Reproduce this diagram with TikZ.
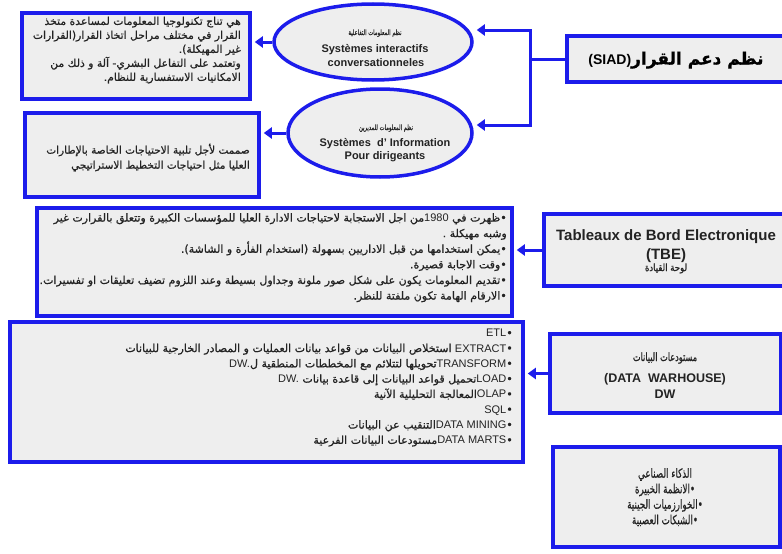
\documentclass[tikz,border=0pt]{standalone}
\usepackage{graphicx}
\usepackage{fontspec}
\setmainfont{Liberation Sans}
\newfontfamily\arfont[Script=Arabic,FakeBold=0.8]{DejaVu Sans}
\TeXXeTstate=1
\usetikzlibrary{arrows.meta,shapes.geometric}

\definecolor{bblue}{RGB}{28,28,235}
\definecolor{bfill}{RGB}{238,238,238}
\definecolor{tgray}{RGB}{35,35,35}

\newcommand{\LT}[1]{\beginL{\normalfont #1}\endL}

\tikzset{
  box/.style={draw=bblue, line width=3.5pt, fill=bfill, rectangle, inner sep=0pt},
  ell/.style={draw=bblue, line width=3.5pt, fill=bfill, ellipse, inner sep=0pt},
  arr/.style={draw=bblue, line width=3pt, -{Triangle[width=11pt,length=8pt]}, shorten >=3pt},
  conn/.style={draw=bblue, line width=3pt},
  rtxt/.style={text=tgray, inner sep=0pt, align=right, anchor=north east},
  ctxt/.style={text=tgray, inner sep=0pt, align=center},
  btxt/.style={text=tgray, inner sep=0pt, anchor=base},
}

\begin{document}
\begin{tikzpicture}[x=1pt,y=-1pt]
\useasboundingbox (0,0) rectangle (782,554);
\clip (0,0) rectangle (782,554);

% ---- top part
\node[box, minimum width=228pt, minimum height=86pt] (b1) at (136,56) {};
\node[rtxt, font=\fontsize{10.8}{14}\selectfont] (t1) at (241,16.5) {%
{\arfont\beginR هي تناج تكنولوجيا المعلومات لمساعدة متخذ\endR}\\
{\arfont\beginR القرار في مختلف مراحل اتخاذ القرار(القرارات\endR}\\
{\arfont\beginR غير المهيكلة).\endR}\\
{\arfont\beginR وتعتمد على التفاعل البشري- آلة و ذلك من\endR}\hspace*{7pt}\\
{\arfont\beginR الامكانيات الاستفسارية للنظام.\endR}};

\node[box, minimum width=234pt, minimum height=84pt] (b2) at (142,155) {};
\node[rtxt, font=\fontsize{10.5}{15}\selectfont] (t2) at (250,143.5) {%
{\arfont\beginR صممت لأجل تلبية الاحتياجات الخاصة بالإطارات\endR}\\
{\arfont\beginR العليا مثل احتياجات التخطيط الاستراتيجي\endR}};

\node[ell, minimum width=198pt, minimum height=76pt] (e1) at (373,42) {};
\node[btxt, font=\fontsize{7.5}{9}\selectfont] (e1a) at (375,35) {\scalebox{0.7}[1]{\arfont\beginR نظم المعلومات التفاعلية\endR}};
\node[btxt, font=\bfseries\fontsize{11}{13}\selectfont] (e1b) at (375,52.5) {Systèmes interactifs};
\node[btxt, font=\bfseries\fontsize{11}{13}\selectfont] (e1c) at (376,66.5) {conversationneles};

\node[ell, minimum width=184pt, minimum height=88pt] (e2) at (380,133) {};
\node[btxt, font=\fontsize{7.5}{9}\selectfont] (e2a) at (386,130) {\scalebox{0.7}[1]{\arfont\beginR نظم المعلومات للمديرين\endR}};
\node[btxt, font=\bfseries\fontsize{11}{13}\selectfont] (e2b) at (385,146) {Systèmes\ \ d' Information};
\node[btxt, font=\bfseries\fontsize{11}{13}\selectfont] (e2c) at (385,159.5) {Pour dirigeants};

\node[box, minimum width=228pt, minimum height=46pt] (siad) at (681,59) {};
\node[btxt, font=\bfseries\fontsize{14}{16}\selectfont, text=black] (siadt) at (676,64.5)
  {{\arfont\beginR{\fontsize{17}{18}\selectfont نظم دعم القرار}\LT{\bfseries(SIAD)}\endR}};

\coordinate (ctop) at (530,30);
\coordinate (cmid) at (530,59);
\coordinate (cbot) at (530,125);
\draw[conn] (siad.west |- cmid) -- (cmid);
\draw[conn] (ctop) -- (cbot);
\draw[arr] ([xshift=1.5pt]ctop) -- (ctop -| e1.east);
\draw[arr] ([xshift=1.5pt]cbot) -- (cbot -| e2.east);
\draw[arr] (e1.west) -- (e1.west -| b1.east);
\draw[arr] (e2.west) -- (e2.west -| b2.east);

% ---- TBE
\node[box, minimum width=475pt, minimum height=108pt] (tbel) at (274.5,262) {};
\node[rtxt, font=\fontsize{11}{15.6}\selectfont] (t3) at (507,213) {%
{\arfont\beginR •ظهرت في \LT{1980}من اجل الاستجابة لاحتياجات الادارة العليا للمؤسسات الكبيرة وتتعلق بالقرارت غير\endR}\\
{\arfont\beginR وشبه مهيكلة .\endR}\\
{\arfont\beginR •يمكن استخدامها من قبل الاداريين بسهولة (استخدام الفأرة و الشاشة).\endR}\\
{\arfont\beginR •وقت الاجابة قصيرة.\endR}\\
{\arfont\beginR •تقديم المعلومات يكون على شكل صور ملونة وجداول بسيطة وعند اللزوم تضيف تعليقات او تفسيرات.\endR}\\
{\arfont\beginR •الارقام الهامة تكون ملفتة للنظر.\endR}};

\node[box, minimum width=251pt, minimum height=72pt] (tber) at (669.5,250) {};
\node[btxt, font=\bfseries\fontsize{15}{17}\selectfont] (tb1) at (666,240.5) {Tableaux de Bord Electronique};
\node[btxt, font=\bfseries\fontsize{15}{17}\selectfont] (tb2) at (666,259) {(TBE)};
\node[btxt, font=\fontsize{10}{11}\selectfont] (tb3) at (666,271) {\scalebox{0.85}[1]{\arfont\beginR لوحة القيادة\endR}};
\draw[arr] (tber.west) -- (tber.west -| tbel.east);

% ---- DW
\node[box, minimum width=513pt, minimum height=140pt] (dwl) at (266.5,392) {};
\node[rtxt, font=\fontsize{11}{15.3}\selectfont] (t5) at (513,329) {%
{\arfont\beginR •\LT{ETL}\endR}\\
{\arfont\beginR •\LT{EXTRACT} استخلاص البيانات من قواعد بيانات العمليات و المصادر الخارجية للبيانات\endR}\\
{\arfont\beginR •\LT{TRANSFORM}تحويلها لتتلائم مع المخططات المنطقية ل\LT{DW.}\endR}\\
{\arfont\beginR •\LT{LOAD}تحميل قواعد البيانات إلى قاعدة بيانات \LT{DW.}\endR}\\
{\arfont\beginR •\LT{OLAP}المعالجة التحليلية الآنية\endR}\\
{\arfont\beginR •\LT{SQL}\endR}\\
{\arfont\beginR •\LT{DATA MINING}التنقيب عن البيانات\endR}\\
{\arfont\beginR •\LT{DATA MARTS}مستودعات البيانات الفرعية\endR}};

\node[box, minimum width=231pt, minimum height=79pt] (dwr) at (665.5,373.5) {};
\node[btxt, font=\fontsize{11.5}{13}\selectfont] (dw1) at (665,361) {\scalebox{0.71}[1]{\arfont\beginR مستودعات البيانات\endR}};
\node[btxt, font=\bfseries\fontsize{12.5}{15}\selectfont] (dw2) at (665,382) {(DATA\ \ WARHOUSE)};
\node[btxt, font=\bfseries\fontsize{12.5}{15}\selectfont] (dw3) at (665,398) {DW};
\draw[arr] (dwr.west) -- (dwr.west -| dwl.east);

% ---- AI
\node[box, minimum width=227pt, minimum height=100pt] (ai) at (666.5,497) {};
\node[ctxt, anchor=north, font=\fontsize{12.5}{15.5}\selectfont] (t7) at (665,468) {%
\scalebox{0.7}[1]{\arfont\beginR الذكاء الصناعي\endR}\\
\scalebox{0.7}[1]{\arfont\beginR •الانظمة الخبيرة\endR}\\
\scalebox{0.7}[1]{\arfont\beginR •الخوارزميات الجينية\endR}\\
\scalebox{0.7}[1]{\arfont\beginR •الشبكات العصبية\endR}};
\end{tikzpicture}
\end{document}
